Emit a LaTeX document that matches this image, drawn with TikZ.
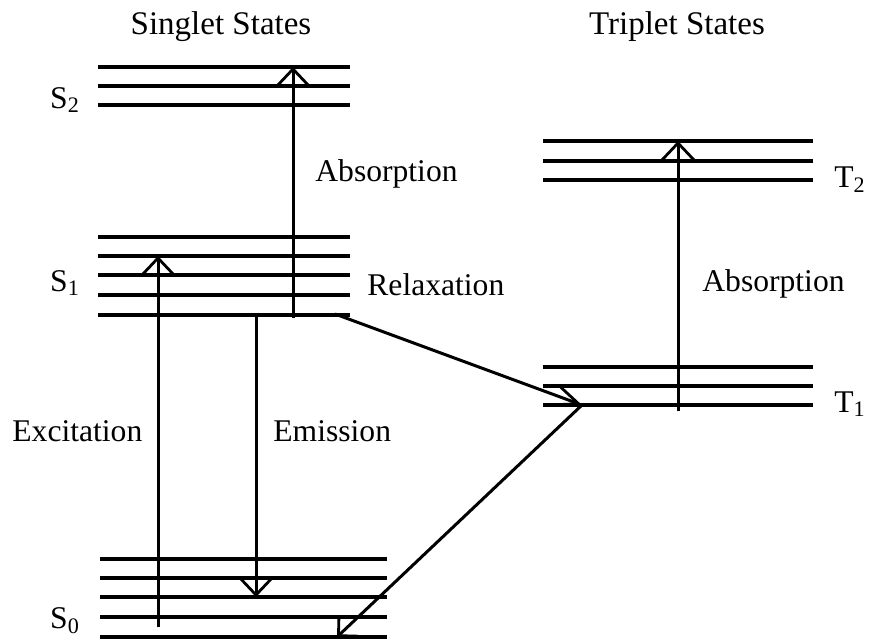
\documentclass[tikz,border=0pt]{standalone}
\usepackage{fontspec}
\setmainfont{Liberation Serif}
\usepackage{tikz}
\usetikzlibrary{arrows.meta}

\begin{document}
\begin{tikzpicture}[
  x=0.5pt, y=-0.5pt,
  font=\fontsize{15.8}{18}\selectfont,
  level/.style={line width=1.7pt},
  trans/.style={line width=1.5pt, -{Straight Barb[length=9pt,width=17pt,line width=1.4pt]}},
  cross/.style={line width=1.5pt, -{Straight Barb[length=12pt,width=10pt,line width=1.4pt]}},
  txt/.style={inner sep=0pt}
]
\useasboundingbox (0,0) rectangle (878,639);
% energy levels
\foreach \y in {67,86,105} \draw[level] (98,\y) -- (350,\y);
\foreach \y in {237,256,275,295,315} \draw[level] (98,\y) -- (350,\y);
\foreach \y in {559,578,597,617,637} \draw[level] (100,\y) -- (387,\y);
\foreach \y in {141,161,180} \draw[level] (543,\y) -- (813,\y);
\foreach \y in {367,386,405} \draw[level] (543,\y) -- (813,\y);
% transition ends
\coordinate (exA) at (158,627);
\coordinate (exB) at (158,256);
\coordinate (emA) at (256,315);
\coordinate (emB) at (256,597);
\coordinate (abA) at (293,318);
\coordinate (abB) at (293,67);
\coordinate (tabA) at (678,411);
\coordinate (tabB) at (678,141);
\coordinate (isA) at (335,314);
\coordinate (isB) at (582,405);
\coordinate (phB) at (337,637);
\draw[trans] (exA) -- (exB);
\draw[trans] (emA) -- (emB);
\draw[trans] (abA) -- (abB);
\draw[trans] (tabA) -- (tabB);
\draw[cross] (isA) -- (isB);
\draw[line width=1.5pt, -{Straight Barb[length=7pt,width=14pt,line width=1.4pt]}] (isB) -- (phB);
% labels
\node[txt, font=\fontsize{16.5}{18}\selectfont] (sing) at (221,27) {Singlet States};
\node[txt, font=\fontsize{16.5}{18}\selectfont] (trip) at (677,27) {Triplet States};
\node[txt] (s2) at (65,100) {S\textsubscript{2}};
\node[txt] (s1) at (65,283) {S\textsubscript{1}};
\node[txt] (s0) at (65,621) {S\textsubscript{0}};
\node[txt] (t2) at (850,180) {T\textsubscript{2}};
\node[txt] (t1) at (850,404) {T\textsubscript{1}};
\node[txt, anchor=west] (absS) at (315,174) {Absorption};
\node[txt, anchor=west] (absT) at (702,284) {Absorption};
\node[txt, anchor=west] (rel) at (367,285) {Relaxation};
\node[txt, anchor=west] (exc) at (12,431) {Excitation};
\node[txt, anchor=west] (emi) at (273,431) {Emission};
\end{tikzpicture}
\end{document}
